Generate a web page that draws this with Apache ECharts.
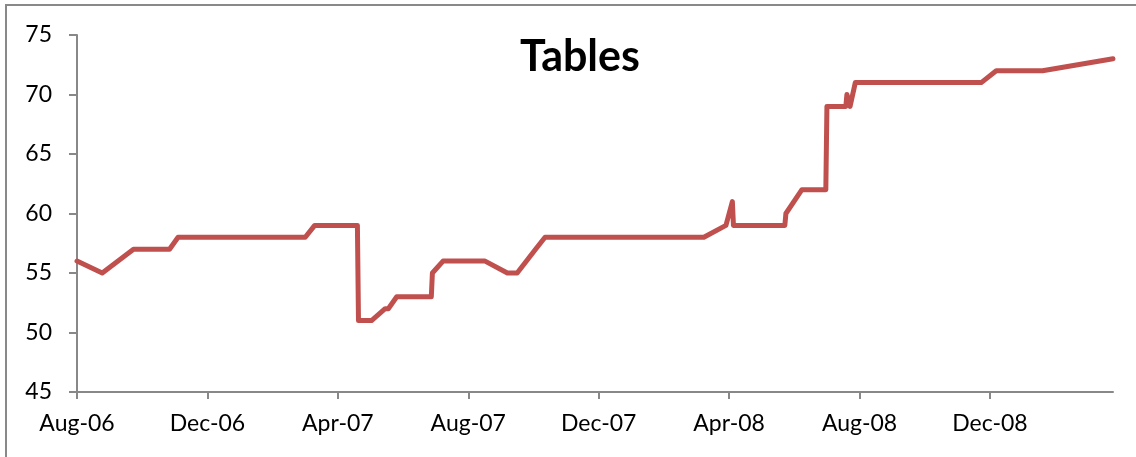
<!DOCTYPE html>
<html>
<head>
<meta charset="utf-8">
<script src="https://cdn.jsdelivr.net/npm/echarts@6/dist/echarts.min.js"></script>
<style>
  html, body { margin: 0; padding: 0; background: #fff; }
  #main { width: 1136px; height: 457px; }
</style>
</head>
<body>
<div id="main"></div>
<script>
  // readings
  const dates = [
    '2006-08-01', '2006-08-25', '2006-09-23', '2006-10-27', '2006-11-04',
    '2007-03-01', '2007-03-10', '2007-04-19', '2007-04-20', '2007-05-02',
    '2007-05-15', '2007-05-18', '2007-05-26', '2007-06-27', '2007-06-28',
    '2007-07-08', '2007-08-17', '2007-09-07', '2007-09-16', '2007-10-03',
    '2007-10-12', '2008-03-08', '2008-03-29', '2008-04-04', '2008-04-05',
    '2008-05-23', '2008-05-24', '2008-06-08', '2008-06-30', '2008-07-01',
    '2008-07-19', '2008-07-20', '2008-07-23', '2008-07-28', '2008-11-23',
    '2008-12-07', '2009-01-20', '2009-03-25'
  ]
  const values = [
    56, 55, 57, 57, 58,
    58, 59, 59, 51, 51,
    52, 52, 53, 53, 55,
    56, 56, 55, 55, 57,
    58, 58, 59, 61, 59,
    59, 60, 62, 62, 69,
    69, 70, 69, 71, 71,
    72, 72, 73
  ]
  const tickLabels = ['Aug-06', 'Dec-06', 'Apr-07', 'Aug-07', 'Dec-07', 'Apr-08', 'Aug-08', 'Dec-08']

  // months since Aug 2006, with the day as a fraction
  function monthPos(s) {
    const [y, m, d] = s.split('-').map(Number)
    const days = new Date(y, m, 0).getDate()
    return (y - 2006) * 12 + (m - 8) + (d - 1) / days
  }

  const points = dates.map((d, i) => [monthPos(d), values[i]])
  const tickPos = tickLabels.map((t, i) => i * 4)
  const xMax = points[points.length - 1][0]

  const myChart = echarts.init(document.getElementById('main'))
  myChart.setOption({
    animation: false,
    title: {
      text: 'Tables',
      left: 575,
      top: 31,
      textAlign: 'center',
      textStyle: { fontFamily: 'Lato', fontWeight: 'bold', fontSize: 43, color: '#000' }
    },
    graphic: [{
      type: 'rect',
      shape: { x: 6, y: 5, width: 1140, height: 470 },
      style: { fill: 'none', stroke: '#898989', lineWidth: 2 },
      silent: true,
      z: -1
    }],
    grid: { left: 77, top: 35, width: 1036, height: 357 },
    xAxis: {
      type: 'value',
      min: 0,
      max: xMax,
      interval: 4,
      splitLine: { show: false },
      axisLine: { lineStyle: { color: '#888', width: 2 } },
      axisTick: {
        show: true,
        length: 7,
        customValues: tickPos,
        lineStyle: { color: '#888', width: 2 }
      },
      axisLabel: {
        customValues: tickPos,
        formatter: v => tickLabels[Math.round(v / 4)] || '',
        margin: 20,
        color: '#000',
        fontFamily: 'Lato',
        fontSize: 23
      }
    },
    yAxis: {
      type: 'value',
      min: 45,
      max: 75,
      interval: 5,
      splitLine: { show: false },
      axisLine: { show: true, lineStyle: { color: '#888', width: 2 } },
      axisTick: { show: true, length: 8, lineStyle: { color: '#888', width: 2 } },
      axisLabel: {
        margin: 25,
        color: '#000',
        fontFamily: 'Lato',
        fontSize: 23
      }
    },
    series: [{
      type: 'line',
      data: points,
      showSymbol: false,
      lineStyle: { color: '#C0504D', width: 5, join: 'round', cap: 'round' },
      itemStyle: { color: '#C0504D' }
    }]
  })
</script>
</body>
</html>
